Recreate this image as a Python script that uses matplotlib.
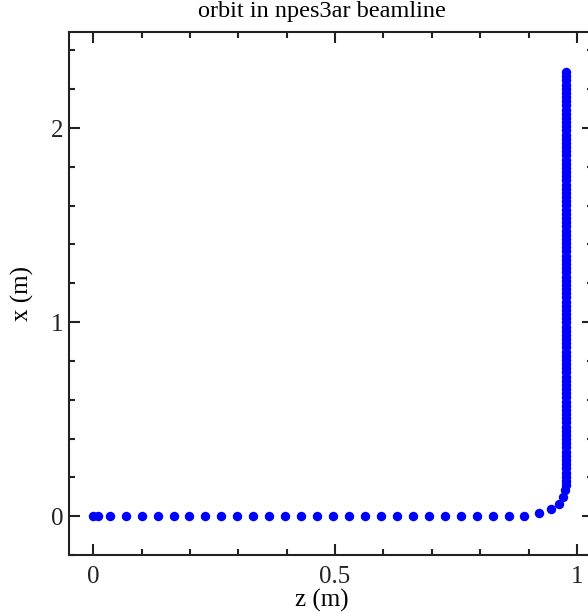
import matplotlib
matplotlib.use("Agg")
import matplotlib.pyplot as plt
from matplotlib.ticker import MultipleLocator
import numpy as np

# Horizontal leg of the orbit (z, x) in metres
z_horiz = [0.0, 0.01, 0.035, 0.068, 0.101, 0.134, 0.166, 0.199, 0.232, 0.265,
           0.298, 0.331, 0.364, 0.397, 0.430, 0.463, 0.496, 0.529, 0.562, 0.595,
           0.628, 0.661, 0.694, 0.727, 0.760, 0.793, 0.826, 0.859, 0.891, 0.921,
           0.946, 0.963, 0.972, 0.976]
x_horiz = [0.0, 0.0, 0.0, 0.0, 0.0, 0.0, 0.0, 0.0, 0.0, 0.0,
           0.0, 0.0, 0.0, 0.0, 0.0, 0.0, 0.0, 0.0, 0.0, 0.0,
           0.0, 0.0, 0.0, 0.0, 0.0, 0.0, 0.0, 0.0, 0.002, 0.017,
           0.036, 0.064, 0.099, 0.135]

# Vertical leg: constant z, rising x
z_vert = 0.977
x_vert = [0.160, 0.182, 0.203, 0.225, 0.246, 0.268, 0.289, 0.311, 0.332, 0.354,
          0.375, 0.397, 0.418, 0.440, 0.461, 0.483, 0.504, 0.526, 0.547, 0.569,
          0.590, 0.612, 0.633, 0.655, 0.676, 0.698, 0.719, 0.741, 0.762, 0.784,
          0.805, 0.827, 0.848, 0.870, 0.891, 0.913, 0.934, 0.956, 0.977, 0.999,
          1.020, 1.042, 1.063, 1.085, 1.106, 1.128, 1.149, 1.171, 1.192, 1.214,
          1.235, 1.257, 1.278, 1.300, 1.321, 1.343, 1.364, 1.386, 1.407, 1.429,
          1.450, 1.472, 1.493, 1.515, 1.536, 1.558, 1.579, 1.601, 1.622, 1.644,
          1.665, 1.687, 1.708, 1.730, 1.751, 1.773, 1.794, 1.816, 1.837, 1.859,
          1.880, 1.902, 1.923, 1.945, 1.966, 1.988, 2.009, 2.031, 2.052, 2.074,
          2.095, 2.117, 2.138, 2.160, 2.181, 2.203, 2.224, 2.246, 2.267, 2.289]

z_all = np.concatenate([z_horiz, np.full(len(x_vert), z_vert)])
x_all = np.concatenate([x_horiz, x_vert])

plt.rcParams['font.family'] = ['Liberation Serif', 'DejaVu Serif']

W, H = 588, 612
fig = plt.figure(figsize=(W / 100, H / 100), dpi=100)
left, right, bottom, top = 69, 593, 555, 32
ax = fig.add_axes([left / W, 1 - bottom / H, (right - left) / W, (bottom - top) / H])

ax.plot(z_all, x_all, 'o', color='#0000ff', markersize=6.8, markeredgewidth=0)

ax.set_xlim(-0.05, 1.033)
ax.set_ylim(-0.2, 2.495)
ax.xaxis.set_major_locator(MultipleLocator(0.5))
ax.xaxis.set_minor_locator(MultipleLocator(0.1))
ax.yaxis.set_major_locator(MultipleLocator(1))
ax.yaxis.set_minor_locator(MultipleLocator(0.2))
ax.xaxis.set_major_formatter(plt.FuncFormatter(lambda v, p: ('%g' % v)))
ax.yaxis.set_major_formatter(plt.FuncFormatter(lambda v, p: ('%g' % v)))

for s in ax.spines.values():
    s.set_linewidth(1.5)
    s.set_color('#222222')

ax.tick_params(which='both', direction='in', top=True, right=True,
               colors='#222222', width=1.5)
ax.tick_params(which='major', length=8, labelsize=18)
ax.tick_params(which='minor', length=4.5)
ax.tick_params(axis='x', which='major', pad=8)
ax.tick_params(axis='y', which='major', pad=4)

fig.text(322 / W, 1 - 12 / H, 'orbit in npes3ar beamline', ha='center', va='center',
         fontsize=17.5)
fig.text(322 / W, 1 - 600 / H, 'z (m)', ha='center', va='center', fontsize=18)
fig.text(22 / W, 1 - 293 / H, 'x (m)', ha='center', va='center', fontsize=18,
         rotation=90)

fig.savefig('out.png', dpi=100, facecolor='white')
